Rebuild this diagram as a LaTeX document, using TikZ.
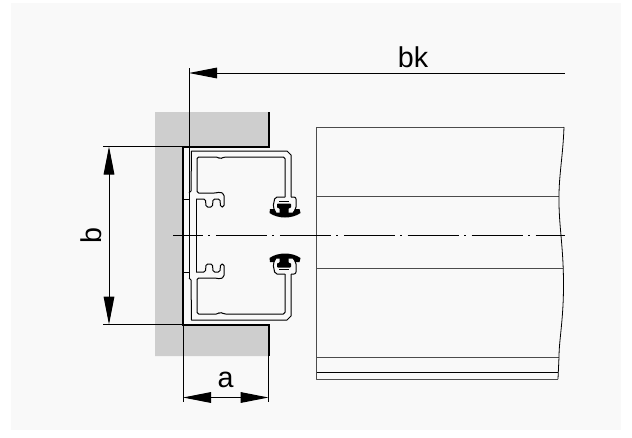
\documentclass[tikz,border=0pt]{standalone}
\usepackage{fontspec}
\setmainfont{Liberation Sans}
\usetikzlibrary{arrows.meta}
\definecolor{panelgrey}{HTML}{F9F9F9}
\definecolor{wallgrey}{HTML}{CECECE}
\tikzset{
	thinline/.style={draw=black,line width=0.7pt},
	wallline/.style={draw=black,line width=1.5pt},
	partline/.style={draw=black,line width=0.75pt,line join=round},
	leafline/.style={draw=black!70,line width=0.75pt,line join=round},
	dimline/.style={{Triangle[length=21pt,width=8pt]}-{Triangle[length=21pt,width=8pt]},draw=black,line width=0.75pt,shorten >=0pt,shorten <=0pt},
	dimlabel/.style={font=\fontsize{21.5pt}{22pt}\selectfont,inner sep=0pt,text=black},
	axisline/.style={draw=black,line width=0.65pt,dash pattern=on 38.25pt off 4.1pt on 1.5pt off 4.1pt,dash phase=15.75pt}
}
\newcommand{\channelhalf}{%
	% outer skin
	\draw[partline] (189,193) -- (191,191) -- (191.5,151) -- (287,151) -- (291,155) -- (291,197);
	% inner skin with the notch and the t-slot
	\draw[partline,rounded corners=1.2pt] (285,197) -- (285,157) -- (224,157) -- (220,159) -- (218,157) -- (197,157) -- (197,193)
		-- (216,193) -- (220,192) -- (224,194) -- (224,207) -- (220.5,207) -- (220,199) -- (213,199) -- (212.5,207)
		-- (206,207) -- (205.5,199) -- (196,199);
	% seal holder
	\draw[partline,rounded corners=1.5pt] (285,197) -- (275,197) -- (273,207) -- (276,213);
	\draw[partline,rounded corners=1.5pt] (291,197) -- (296,197) -- (296,209) -- (293,213);
	\draw[partline] (279,201.5) -- (289,201.5);
	% seal
	\fill[black] (269.5,213) -- (270,209) -- (274,209) -- (276,212.5) -- (293,212.5) -- (295,209) -- (299.5,209) -- (300.5,213)
		.. controls (292,219) and (278,219) .. (269.5,213) -- cycle;
	\fill[black,rounded corners=0.6pt] (277,203.5) -- (291,203.5) -- (291,208) -- (288.5,208) -- (288.5,214) -- (279.5,214) -- (279.5,208) -- (277,208) -- cycle;
}
\begin{document}
\begin{tikzpicture}[x=0.75pt,y=-0.75pt]
	\useasboundingbox (0,0) rectangle (632,437);
	\fill[white] (0,0) rectangle (632,437);
	\fill[panelgrey] (11,3) rectangle (621,430);
	\fill[wallgrey] (155,112) -- (268.5,112) -- (268.5,146.5) -- (183,146.5) -- (183,324.5) -- (268.5,324.5) -- (268.5,356) -- (155,356) -- cycle;

	% points the dimensions hang on
	\coordinate (bkleft) at (189,73);
	\coordinate (bkright) at (565,73);
	\coordinate (bkfoot) at (189,278);
	\coordinate (bktop) at (189,68);
	\coordinate (btop) at (109,146.5);
	\coordinate (bbottom) at (109,324.5);
	\coordinate (bout1) at (103,146.5);
	\coordinate (bout2) at (103,324.5);
	\coordinate (wall1) at (183,146.5);
	\coordinate (wall2) at (183,324.5);
	\coordinate (lip1) at (268.5,146.5);
	\coordinate (lip2) at (268.5,324.5);
	\coordinate (liptop) at (268.5,112);
	\coordinate (lipbot) at (268.5,356);
	\coordinate (aleft) at (183,397.5);
	\coordinate (aright) at (268.5,397.5);
	\coordinate (afoot1) at (183,402);
	\coordinate (afoot2) at (268.5,402);
	\coordinate (axis1) at (173,235.5);
	\coordinate (axis2) at (565,235.5);

	% wall
	\draw[wallline] (liptop) -- (lip1) -- (wall1) -- (wall2) -- (lip2) -- (lipbot);

	% profile
	\foreach \s/\o in {1/0,-1/471}{
		\begin{scope}[shift={(0,\o)},yscale=\s]
			\channelhalf
			\draw[partline] (183,199) -- (189,199);
		\end{scope}
	}
	\draw[partline] (196,199) -- (196,272);

	% door leaf
	\draw[leafline] (564,127) -- (316.5,127) -- (316.5,379) -- (558,379);
	\draw[leafline] (316.5,196) -- (559,196);
	\draw[leafline] (316.5,268) -- (563,268);
	\draw[leafline] (316.5,357) -- (559,357);
	\draw[partline] (316.5,372) -- (558,372);
	\draw[partline,line width=0.6pt] (564,127) .. controls (563,155) and (559,175) .. (559,196)
		.. controls (558.5,225) and (563.5,245) .. (563.5,285)
		.. controls (563.5,320) and (559,340) .. (559,357) -- (558,379);

	\draw[axisline] (axis1) -- (axis2);

	% dimensions
	\draw[thinline] (bktop) -- (bkfoot);
	\draw[thinline] (bout1) -- (wall1);
	\draw[thinline] (bout2) -- (wall2);
	\draw[thinline] (wall2) -- (afoot1);
	\draw[thinline] (lip2) -- (afoot2);
	\path[draw,thinline,{Triangle[length=21pt,width=8pt]}-] (bkleft) -- (bkright);
	\path[draw,dimline] (btop) -- (bbottom);
	\path[draw,dimline] (aleft) -- (aright);

	\node[dimlabel] (bklabel) at (413,57) {bk};
	\node[dimlabel,rotate=90] (blabel) at (91,236) {b};
	\node[dimlabel] (alabel) at (225.7,380) {a};
\end{tikzpicture}
\end{document}
